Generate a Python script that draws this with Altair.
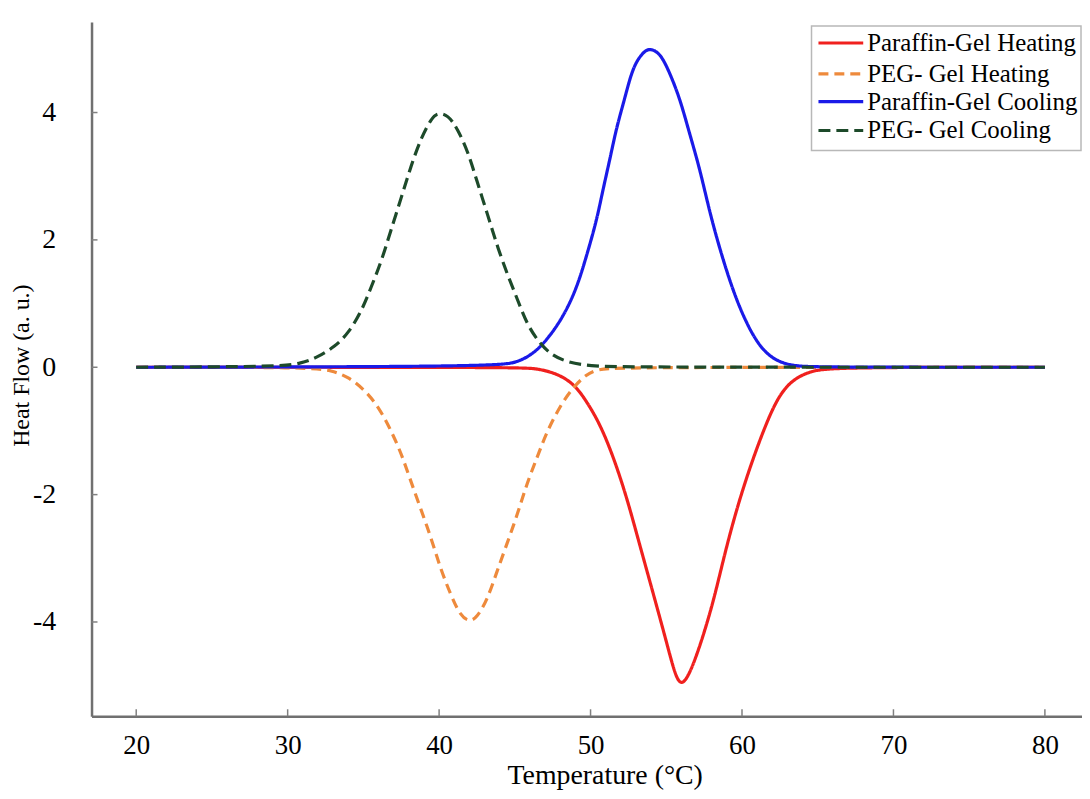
import altair as alt
import pandas as pd

# ---------------- data ----------------
series_names = ["Paraffin-Gel Heating", "PEG- Gel Heating", "Paraffin-Gel Cooling", "PEG- Gel Cooling"]
series_colors = ["#f0201e", "#ee8a3c", "#1a1ae8", "#1d4a2a"]
series_dashes = [[1, 0], [10, 6], [1, 0], [12, 6]]

x_ticks = [20, 30, 40, 50, 60, 70, 80]
y_ticks = [-4, -2, 0, 2, 4]

paraffin_heat_T = [20, 45.2, 46.5, 47.8, 48.9, 49.7, 50.6, 51.5, 52.4, 53.2, 54.1, 55.0, 55.6, 56.0,
                   56.5, 57.2, 58.1, 58.9, 59.8, 60.7, 61.6, 62.4, 63.3, 64.5, 66, 80]
paraffin_heat_v = [0, 0, -0.02, -0.10, -0.26, -0.52, -0.88, -1.40, -2.05, -2.75, -3.52, -4.30, -4.85, -5.0,
                   -4.84, -4.40, -3.70, -2.88, -2.10, -1.45, -0.88, -0.46, -0.20, -0.06, 0, 0]

peg_heat_T = [20, 31.5, 32.9, 34.0, 35.1, 36.0, 36.8, 37.5, 38.1, 38.8, 39.5, 40.1, 40.8, 41.4, 42.0,
              42.5, 43.2, 43.8, 44.5, 45.2, 45.8, 46.5, 47.1, 48.0, 48.9, 49.7, 50.4, 52, 80]
peg_heat_v = [0, 0, -0.05, -0.15, -0.36, -0.62, -0.98, -1.35, -1.77, -2.23, -2.70, -3.17, -3.59, -3.90, -4.0,
              -3.93, -3.64, -3.22, -2.76, -2.29, -1.82, -1.40, -1.02, -0.60, -0.30, -0.12, -0.03, 0, 0]

paraffin_cool_T = [20, 43.8, 45.2, 46.2, 47.1, 48.2, 49.1, 49.7, 50.4, 50.8, 51.3, 51.7, 52.2, 52.6, 53.0,
                   53.6, 54.0, 54.6, 55.2, 55.9, 56.5, 57.2, 57.8, 58.5, 59.4, 60.3, 61.3, 62.4, 63.5, 65, 80]
paraffin_cool_v = [0, 0.01, 0.08, 0.21, 0.42, 0.79, 1.25, 1.72, 2.30, 2.77, 3.29, 3.75, 4.17, 4.54, 4.80,
                   4.98, 5.0, 4.93, 4.64, 4.22, 3.70, 3.13, 2.50, 1.88, 1.20, 0.68, 0.27, 0.08, 0.02, 0, 0]

peg_cool_T = [20, 29.5, 30.9, 32.0, 33.1, 34.0, 34.9, 35.5, 36.2, 36.8, 37.5, 38.1, 38.8, 39.5, 39.9,
              40.6, 41.2, 41.9, 42.5, 43.2, 43.8, 44.5, 45.2, 45.8, 46.5, 47.3, 48.4, 50.0, 52, 80]
peg_cool_v = [0, 0.01, 0.06, 0.16, 0.32, 0.53, 0.89, 1.25, 1.67, 2.14, 2.66, 3.13, 3.60, 3.91, 4.0,
              3.96, 3.75, 3.39, 2.92, 2.40, 1.93, 1.46, 1.05, 0.68, 0.42, 0.21, 0.08, 0.02, 0, 0]

# ---------------- build table ----------------
all_series = [
    (series_names[0], paraffin_heat_T, paraffin_heat_v),
    (series_names[1], peg_heat_T, peg_heat_v),
    (series_names[2], paraffin_cool_T, paraffin_cool_v),
    (series_names[3], peg_cool_T, peg_cool_v),
]
rows = []
for name, ts, vs in all_series:
    for t, v in zip(ts, vs):
        rows.append({"series": name, "T": t, "v": v})
df = pd.DataFrame(rows)

FONT = "Liberation Serif"
W, H = 996, 698

x_scale = alt.Scale(domain=[17.05, 82.45], nice=False, zero=False)
y_scale = alt.Scale(domain=[-5.48, 5.42], nice=False, zero=False)

x_axis = alt.Axis(
    values=x_ticks, ticks=False, tickSize=0, grid=False,
    domainColor="#707070", domainWidth=2.5,
    labelFont=FONT, labelFontSize=27, labelColor="black", labelPadding=16,
    title="Temperature (°C)", titleFont=FONT, titleFontSize=28, titleFontWeight="normal",
    titleColor="black", titleX=516, titleY=68, titleBaseline="alphabetic",
)
y_axis = alt.Axis(
    values=y_ticks, ticks=False, tickSize=0, grid=False,
    domainColor="#707070", domainWidth=2.5,
    labelFont=FONT, labelFontSize=28, labelColor="black", labelPadding=36,
    labelExpr="'' + datum.value",
    title="Heat Flow (a. u.)", titleFont=FONT, titleFontSize=24, titleFontWeight="normal",
    titleColor="black", titleX=-70, titleY=345, titleBaseline="middle",
)

lines = alt.Chart(df).mark_line(strokeWidth=3.2, interpolate="basis").encode(
    x=alt.X("T:Q", scale=x_scale, axis=x_axis),
    y=alt.Y("v:Q", scale=y_scale, axis=y_axis),
    color=alt.Color("series:N", scale=alt.Scale(domain=series_names, range=series_colors), legend=None),
    strokeDash=alt.StrokeDash("series:N", scale=alt.Scale(domain=series_names, range=series_dashes), legend=None),
)

# small inward tick marks
xt = alt.Chart(pd.DataFrame({"t": x_ticks})).mark_rule(color="#808080", strokeWidth=1.5).encode(
    x=alt.X("t:Q", scale=x_scale), y=alt.value(H), y2=alt.value(H - 7)
)
yt = alt.Chart(pd.DataFrame({"t": y_ticks})).mark_rule(color="#808080", strokeWidth=1.5).encode(
    y=alt.Y("t:Q", scale=y_scale), x=alt.value(0), x2=alt.value(6)
)

# legend (drawn manually so rows stay compact)
layers = [lines, xt, yt]
box = alt.Chart(pd.DataFrame({"a": [0]})).mark_rect(
    fill="white", stroke="#b8b8b8", strokeWidth=1.5
).encode(x=alt.value(724), x2=alt.value(995), y=alt.value(4), y2=alt.value(129))
layers.append(box)
row_y = [21, 52, 80, 109]
for i, name in enumerate(series_names):
    d = pd.DataFrame({"series": [name]})
    sym = alt.Chart(d).mark_rule(
        color=series_colors[i], strokeWidth=3.2, strokeDash=series_dashes[i]
    ).encode(x=alt.value(731), x2=alt.value(776), y=alt.value(row_y[i]))
    txt = alt.Chart(d).mark_text(
        font=FONT, fontSize=25, align="left", baseline="middle", color="black"
    ).encode(x=alt.value(780), y=alt.value(row_y[i]), text="series:N")
    layers += [sym, txt]

chart = alt.layer(*layers).properties(
    width=W, height=H,
    autosize=alt.AutoSizeParams(type="none"),
    padding={"left": 84, "top": 12, "right": 0, "bottom": 72},
    background="white",
).configure_view(stroke=None)

chart.save("out.html", embed_options={"renderer": "svg", "actions": False})
